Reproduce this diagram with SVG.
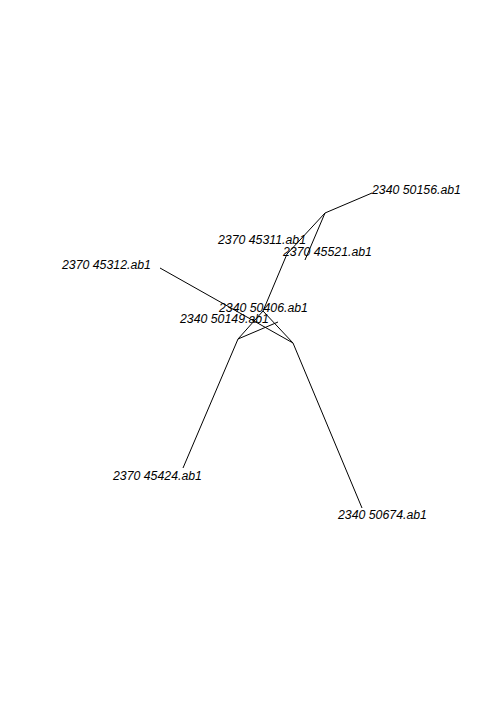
<svg xmlns="http://www.w3.org/2000/svg" width="504" height="720" viewBox="0 0 504 720">
<style>
.e{stroke:#000;stroke-width:1;fill:none}
.t{font-family:"Liberation Sans",Arial,sans-serif;font-size:12.3px;font-style:italic;fill:#000}
</style>
<rect width="504" height="720" fill="#fff"/>
<g id="edges">
<line class="e" x1="325" y1="213" x2="372" y2="193"/>
<line class="e" x1="325" y1="213" x2="305" y2="260"/>
<line class="e" x1="325" y1="213" x2="287" y2="254"/>
<line class="e" x1="287" y1="254" x2="263" y2="311"/>
<line class="e" x1="263" y1="311" x2="238" y2="339"/>
<line class="e" x1="263" y1="311" x2="293" y2="343"/>
<line class="e" x1="160" y1="268" x2="293" y2="343"/>
<line class="e" x1="238" y1="339" x2="183" y2="468"/>
<line class="e" x1="238" y1="339" x2="278" y2="322"/>
<line class="e" x1="293" y1="343" x2="362" y2="508"/>
</g>
<g id="tip-50156"><text class="t" x="372" y="194">2340 50156.ab1</text></g>
<g id="tip-45521"><text class="t" x="283" y="256">2370 45521.ab1</text></g>
<g id="tip-45311"><text class="t" x="218" y="244">2370 45311.ab1</text></g>
<g id="tip-45312"><text class="t" x="62" y="269">2370 45312.ab1</text></g>
<g id="tip-50406"><text class="t" x="219" y="312">2340 50406.ab1</text></g>
<g id="tip-50149"><text class="t" x="180" y="323">2340 50149.ab1</text></g>
<g id="tip-45424"><text class="t" x="113" y="480">2370 45424.ab1</text></g>
<g id="tip-50674"><text class="t" x="338" y="519">2340 50674.ab1</text></g>
</svg>
